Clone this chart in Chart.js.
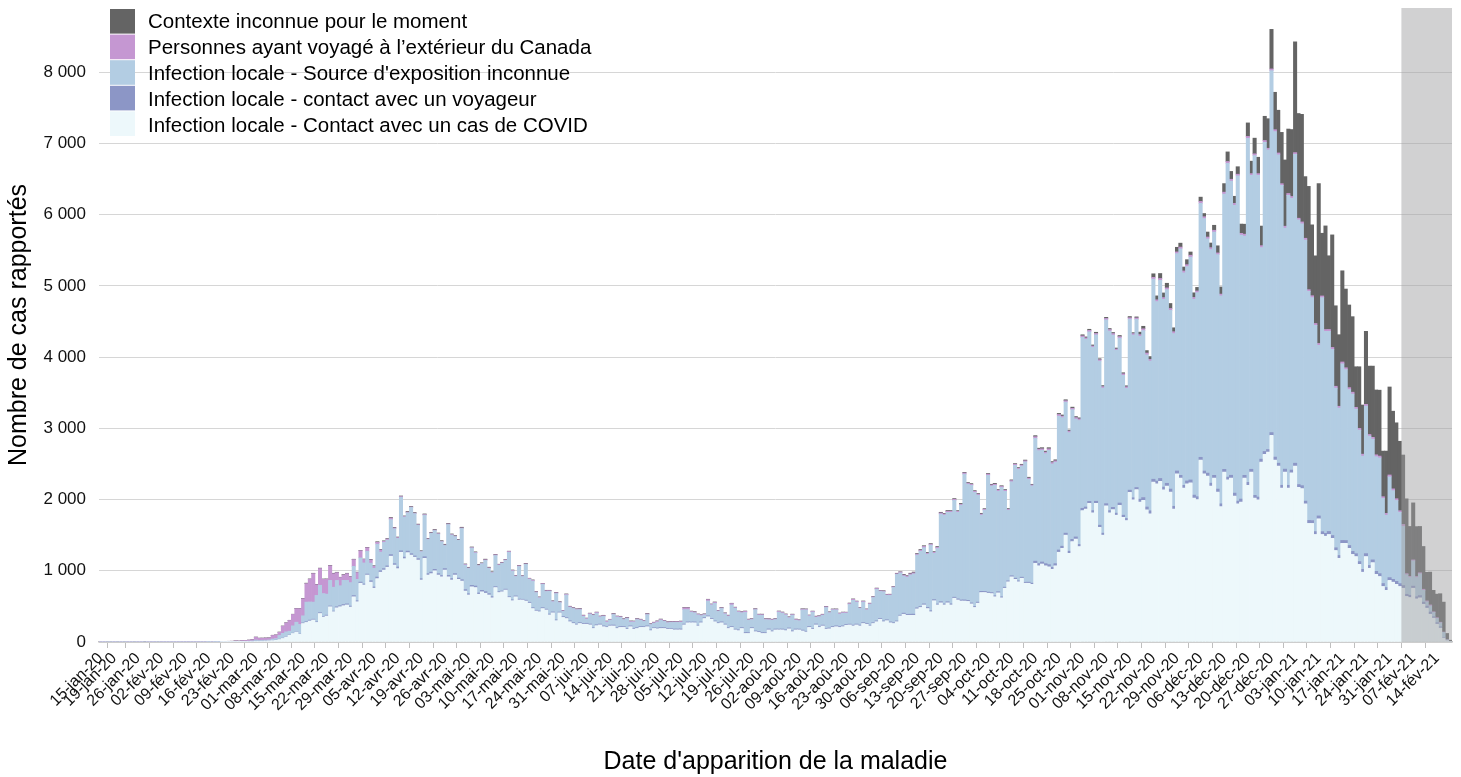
<!DOCTYPE html>
<html>
<head>
<meta charset="utf-8">
<script src="https://cdn.jsdelivr.net/npm/chart.js@4.4.1/dist/chart.umd.min.js"></script>
<style>
html,body{margin:0;padding:0;background:#fff;}
#wrap{width:1461px;height:777px;position:relative;}
</style>
</head>
<body>
<div id="wrap"><canvas id="c" width="1461" height="777"></canvas></div>
<script>
// ---------- DATA ----------
const seriesLabels = [
  "Infection locale - Contact avec un cas de COVID",
  "Infection locale - contact avec un voyageur",
  "Infection locale - Source d'exposition inconnue",
  "Personnes ayant voyagé à l’extérieur du Canada",
  "Contexte inconnue pour le moment"
];
const yTitle = "Nombre de cas rapportés";
const xTitle = "Date d'apparition de la maladie";
const monthsFr = ['jan','fév','mar','avr','mai','jui','jul','aoû','sep','oct','nov','déc'];
const firstDay = [2020, 0, 15];
const shadedFrom = '04-fév-21';
const yTicks = [0, 1000, 2000, 3000, 4000, 5000, 6000, 7000, 8000];
const yMax = 8900;

const tickLabels = ['15-jan-20','19-jan-20','26-jan-20','02-fév-20','09-fév-20','16-fév-20','23-fév-20',
'01-mar-20','08-mar-20','15-mar-20','22-mar-20','29-mar-20','05-avr-20','12-avr-20','19-avr-20','26-avr-20',
'03-mai-20','10-mai-20','17-mai-20','24-mai-20','31-mai-20','07-jui-20','14-jui-20','21-jui-20','28-jui-20',
'05-jul-20','12-jul-20','19-jul-20','26-jul-20','02-aoû-20','09-aoû-20','16-aoû-20','23-aoû-20','30-aoû-20',
'06-sep-20','13-sep-20','20-sep-20','27-sep-20','04-oct-20','11-oct-20','18-oct-20','25-oct-20',
'01-nov-20','08-nov-20','15-nov-20','22-nov-20','29-nov-20','06-déc-20','13-déc-20','20-déc-20','27-déc-20',
'03-jan-21','10-jan-21','17-jan-21','24-jan-21','31-jan-21','07-fév-21','14-fév-21'];

const contact = [
0,0,0,0,0,0,0,0,0,0,
0,0,0,0,0,0,0,0,0,0,
0,0,0,0,0,0,0,0,0,0,
0,0,0,0,0,0,1,1,2,2,
3,3,4,5,6,8,12,12,14,15,
18,20,25,35,50,70,95,120,140,110,
260,275,295,310,275,400,350,365,495,425,
480,495,510,520,490,635,565,825,800,940,
840,755,890,980,1010,1050,1205,1080,1030,1260,
1170,1255,1220,1190,1150,870,1175,940,960,1000,
940,915,1010,915,870,940,880,855,715,660,
775,765,670,705,685,660,620,765,695,705,
730,625,580,635,590,590,575,545,470,435,
425,470,450,380,410,300,410,345,330,285,
260,240,260,250,250,240,190,230,240,215,
205,225,225,190,205,205,180,215,180,190,
205,205,215,160,190,185,190,190,180,180,
170,170,170,240,270,270,270,225,270,330,
355,320,285,260,270,240,190,205,170,160,
190,120,120,190,145,135,120,120,170,145,
170,170,170,160,185,145,170,170,155,140,
205,180,240,205,225,180,185,205,215,205,
215,235,240,225,240,225,260,250,225,260,
285,320,285,300,270,260,285,365,390,375,
375,375,465,485,520,470,425,580,520,550,
520,550,520,615,590,575,575,570,535,485,
545,695,695,685,680,635,690,620,755,845,
915,880,845,895,825,825,810,1105,1070,1095,
1070,1055,1020,1070,1260,1315,1500,1245,1410,1445,
1340,1845,1865,1945,1815,1945,1610,1500,1910,1815,
1860,1780,1920,1750,1705,2100,1995,2140,1965,1990,
1855,1800,2245,2220,2255,2135,2190,2105,1865,2360,
2300,2160,2220,2235,2020,2000,2555,2360,2330,2190,
2300,2105,1900,2385,2275,2300,2050,1940,1965,2300,
2200,2385,2020,1995,2525,2635,2665,2900,2555,2470,
2160,2385,2160,2375,2470,2170,2155,1940,1665,1665,
1510,1730,1510,1485,1510,1455,1285,1175,1385,1385,
1315,1230,1200,1090,980,1200,1035,1115,950,920,
780,725,865,840,810,780,755,640,625,755,
605,620,530,475,390,335,250,195,55,20,
5];

const voyageur = [
0,0,0,0,0,0,0,0,0,0,
0,0,0,0,0,0,0,0,0,0,
0,0,0,0,0,0,0,0,0,0,
0,0,0,0,0,0,0,0,0,0,
1,0,1,1,1,2,2,2,3,2,
2,2,3,4,4,5,4,4,5,4,
8,10,12,10,9,11,10,12,10,9,
14,15,16,15,14,17,15,16,15,14,
20,18,22,20,21,19,22,20,24,20,
22,21,20,18,20,19,22,20,21,20,
20,19,21,20,22,20,18,20,21,19,
20,21,19,20,22,20,18,12,13,11,
12,11,13,12,12,10,12,13,12,11,
12,12,11,13,12,12,10,12,12,13,
12,11,12,12,13,12,11,12,12,12,
10,12,13,12,12,11,12,12,13,12,
12,11,12,12,10,12,13,12,12,11,
12,12,13,12,12,11,12,12,12,13,
12,12,11,12,13,12,12,12,11,12,
12,13,12,12,11,12,12,12,13,12,
12,11,12,12,12,13,12,11,12,12,
12,12,13,12,12,11,12,12,12,13,
12,12,11,12,12,13,12,12,12,11,
12,12,13,12,12,12,11,12,15,14,
15,16,15,14,15,16,15,15,14,16,
15,15,16,14,15,15,16,15,14,15,
15,16,15,15,14,15,16,15,15,14,
15,16,15,15,14,15,16,30,32,28,
30,31,29,30,32,30,28,30,31,30,
30,32,30,29,30,31,30,28,32,30,
30,29,31,30,30,32,30,29,40,38,
40,42,40,39,41,40,38,42,40,41,
40,39,41,40,42,40,38,40,41,40,
40,42,40,39,40,41,40,38,42,40,
41,40,39,40,42,40,38,40,41,40,
40,42,40,39,40,41,40,38,42,40,
41,40,39,40,42,40,38,40,41,40,
40,42,40,39,40,41,40,38,42,40,
41,40,39,40,42,40,38,30,31,29,
30,32,30,29,31,20,21,19,10,5,
0];

const sourceInconnue = [
0,0,0,0,0,0,0,0,0,0,
0,0,0,0,0,0,0,0,0,0,
0,0,0,0,0,0,0,0,0,0,
0,0,1,0,1,1,1,2,2,2,
3,3,4,4,5,6,13,8,8,8,
9,20,20,53,68,68,53,103,133,133,
100,275,255,240,370,385,320,295,360,335,
370,280,340,330,330,410,300,340,295,320,
247,262,462,262,367,362,492,490,400,752,
562,539,649,594,469,379,584,479,544,544,
554,474,324,714,609,519,529,719,344,354,
524,464,384,374,439,354,334,438,368,388,
403,623,403,273,458,318,503,323,373,248,
183,328,248,318,143,368,133,73,318,188,
198,203,183,98,58,138,173,163,98,133,
63,68,148,148,128,98,138,53,88,113,
88,73,158,73,63,83,103,88,78,83,
93,93,93,203,173,138,128,143,88,38,
208,188,248,158,188,143,158,303,293,248,
208,283,173,113,298,228,243,183,128,148,
133,238,223,208,143,218,123,118,283,298,
148,228,93,138,138,293,213,233,223,173,
178,158,278,348,308,233,288,188,293,353,
443,378,408,343,373,493,653,593,520,520,
550,565,740,775,790,745,920,650,780,1230,
1245,1255,1285,1360,1215,1330,1765,1630,1650,1600,
1500,1070,1140,1640,1495,1550,1410,1535,1345,990,
1320,1585,1565,1560,1690,1445,1365,1725,1585,1570,
1545,1605,1450,1425,1880,1805,1840,1665,1820,1655,
1740,2400,2355,2380,2290,2335,2305,2035,2580,2520,
2420,2285,2315,1965,1825,2400,2285,2360,2285,2345,
2135,2100,2810,2520,2780,2635,2720,2510,2425,3050,
3180,2985,3010,3130,2750,2865,3565,3545,3290,3280,
3415,3290,2920,3865,4405,4130,4040,4565,3705,3360,
4830,4125,4770,4515,2970,4340,4205,5080,4570,4330,
4210,3385,4070,3815,4335,3715,3675,3665,3215,3130,
2895,2395,3285,2835,2810,2615,2240,2070,2480,2400,
2190,2210,2030,1845,1590,2070,1815,1695,1610,1625,
1195,1015,1415,1245,1135,1000,830,275,250,355,
270,305,165,60,85,60,60,55,70,5,
0];

const voyage = [
2,1,0,0,1,0,1,0,2,1,
0,1,2,0,1,2,1,0,2,1,
1,2,1,3,2,4,3,2,3,2,
4,3,4,3,5,4,5,5,6,7,
9,8,11,12,15,17,40,30,28,30,
28,50,50,45,100,125,150,160,190,220,
240,260,320,400,150,235,200,210,205,190,
110,115,75,95,80,95,95,100,50,50,
45,30,25,30,15,15,20,12,12,10,
8,9,7,8,8,6,8,9,7,8,
8,7,8,9,8,7,6,8,9,8,
7,8,8,6,9,8,7,10,11,9,
10,12,9,10,11,10,8,10,12,10,
9,10,11,10,10,12,9,10,10,11,
10,9,10,12,10,10,9,11,10,10,
12,10,9,10,11,10,10,12,9,10,
10,11,10,9,10,12,10,10,11,10,
9,10,12,25,25,10,11,10,9,10,
20,10,12,10,9,10,11,20,10,10,
12,15,10,9,10,11,10,10,12,10,
10,12,10,9,10,10,11,10,12,10,
9,10,11,10,10,12,9,10,10,11,
10,10,12,15,10,9,10,11,10,10,
12,10,9,10,11,10,10,12,15,14,
16,15,14,15,17,15,13,15,16,15,
14,15,16,15,15,13,17,15,14,16,
15,15,14,16,15,15,17,14,15,15,
16,15,14,15,15,16,14,22,20,19,
20,21,20,18,22,20,19,21,20,20,
22,20,19,21,20,20,18,22,20,21,
20,19,21,20,22,20,19,20,25,24,
26,25,24,25,27,25,23,25,26,25,
24,25,26,25,25,23,27,25,24,26,
25,25,24,26,25,25,27,24,25,25,
26,25,24,25,27,25,23,25,26,25,
24,25,26,25,25,23,27,25,24,26,
25,25,24,26,25,25,27,24,25,25,
26,25,24,25,27,25,23,25,26,25,
24,25,26,25,25,23,27,15,16,14,
15,15,16,14,15,10,11,9,5,0,
0];

const contexteInconnu = [
0,0,0,0,0,0,0,0,0,0,
0,0,0,3,0,0,0,0,0,0,
0,0,0,0,0,0,0,0,0,0,
0,0,0,0,0,0,0,0,0,0,
1,1,1,1,1,2,3,3,3,3,
3,3,3,3,3,3,3,3,3,3,
5,6,4,5,5,6,5,4,5,6,
5,4,6,5,5,5,6,4,5,5,
8,7,9,8,8,7,9,8,8,8,
8,9,7,8,8,8,9,7,8,8,
8,8,9,7,8,8,8,9,7,8,
8,8,9,7,8,8,8,5,5,6,
5,4,6,5,5,5,6,4,5,5,
5,4,6,5,5,5,6,4,5,5,
5,4,6,5,5,5,6,4,5,5,
5,4,6,5,5,5,6,4,5,5,
5,4,6,5,5,5,6,4,5,5,
5,4,6,5,5,5,6,4,5,5,
5,4,6,5,5,5,6,4,5,5,
5,4,6,5,5,5,6,4,5,5,
5,4,6,5,5,5,6,4,5,5,
5,4,6,5,5,5,6,4,5,5,
5,4,6,5,5,5,6,4,5,5,
5,4,6,5,5,5,6,4,10,9,
10,11,9,10,10,12,9,10,11,10,
10,11,9,10,10,12,9,10,11,10,
10,11,9,10,10,12,9,10,11,10,
10,9,11,10,10,12,9,15,14,16,
15,16,14,15,15,17,14,15,16,15,
15,16,14,15,15,17,14,15,16,15,
15,14,16,15,15,17,14,15,35,35,
35,40,50,55,70,65,65,70,55,65,
55,55,70,45,65,50,60,45,70,65,
70,100,100,120,135,110,100,105,130,140,
190,175,220,230,275,340,415,555,525,600,
720,930,905,940,1555,1470,1510,865,1450,995,
950,2245,880,1455,1035,1580,1130,1005,1280,1105,
1160,1060,570,865,690,1025,960,1000,910,925,
640,875,1235,1090,1065,975,975,1050,700,800,
700,650,600,400,460,300,330,400,420,90,
20];

// ---------- BUILD ----------
const nDays = contact.length;
[voyageur, sourceInconnue, voyage, contexteInconnu].forEach((a, k) => {
  if (a.length !== nDays) throw new Error('length mismatch in series ' + k + ': ' + a.length + ' vs ' + nDays);
});
const categories = [];
{
  const d = new Date(Date.UTC(firstDay[0], firstDay[1], firstDay[2]));
  for (let k = 0; k < nDays; k++) {
    categories.push(String(d.getUTCDate()).padStart(2, '0') + '-' + monthsFr[d.getUTCMonth()] + '-' + String(d.getUTCFullYear()).slice(2));
    d.setUTCDate(d.getUTCDate() + 1);
  }
}
const tickSet = new Set(tickLabels);
const FONT = '"Liberation Sans", Arial, Helvetica, sans-serif';
const colors = ['#edf8fb', '#8c96c6', '#b3cde3', '#c597d2', '#646464'];
const seriesData = [contact, voyageur, sourceInconnue, voyage, contexteInconnu];
const legendOrder = [4, 3, 2, 1, 0];

const fmt = v => String(v).replace(/\B(?=(\d{3})+(?!\d))/g, '\u00a0');

const shadePlugin = {
  id: 'shade',
  afterDatasetsDraw(chart) {
    const xs = chart.scales.x, ctx = chart.ctx, a = chart.chartArea;
    const idx = categories.indexOf(shadedFrom);
    if (idx < 0) return;
    const half = (xs.getPixelForValue(1) - xs.getPixelForValue(0)) / 2;
    const left = xs.getPixelForValue(idx) - half;
    ctx.save();
    ctx.fillStyle = 'rgba(158,158,160,0.48)';
    ctx.fillRect(left, a.top, a.right - left, a.bottom - a.top);
    ctx.restore();
  }
};

const legendPlugin = {
  id: 'insideLegend',
  afterDraw(chart) {
    const ctx = chart.ctx, a = chart.chartArea;
    const x0 = a.left + 11, y0 = a.top + 1, box = 25, rowH = 25.6, textStep = 26.2;
    ctx.save();
    ctx.font = '20.5px ' + FONT;
    ctx.textBaseline = 'middle';
    ctx.textAlign = 'left';
    legendOrder.forEach((k, r) => {
      const ds = chart.data.datasets[k];
      ctx.fillStyle = ds.backgroundColor;
      ctx.fillRect(x0, y0 + r * rowH, box, rowH - 1);
      ctx.fillStyle = '#000';
      ctx.fillText(ds.label, x0 + 38, a.top + 14 + r * textStep);
    });
    ctx.restore();
  }
};

new Chart(document.getElementById('c'), {
  type: 'bar',
  data: {
    labels: categories,
    datasets: seriesData.map((d, k) => ({
      label: seriesLabels[k],
      data: d,
      backgroundColor: colors[k],
      borderWidth: 0,
      barPercentage: 1,
      categoryPercentage: 1
    }))
  },
  options: {
    responsive: false,
    animation: false,
    devicePixelRatio: 1,
    events: [],
    layout: { padding: { top: 8, right: 9, left: 0, bottom: 0 } },
    plugins: { legend: { display: false }, tooltip: { enabled: false } },
    scales: {
      x: {
        stacked: true,
        offset: true,
        grid: {
          display: true, drawOnChartArea: false, drawTicks: true, tickLength: 6, offset: true,
          color: c => (c.tick && tickSet.has(categories[c.tick.value])) ? '#bfbfbf' : 'rgba(0,0,0,0)',
          lineWidth: 1
        },
        border: { display: true, color: '#c4c4c4', width: 1.5 },
        ticks: {
          autoSkip: false, maxRotation: 45, minRotation: 45, padding: 1,
          color: '#111', font: { size: 16, family: FONT },
          callback: function (v) { const l = categories[v]; return tickSet.has(l) ? l : null; }
        },
        title: { display: true, text: xTitle, color: '#000', font: { size: 25, family: FONT }, padding: { top: 0, bottom: 0 } },
        afterFit(s) { s.height = 135; s.paddingLeft = 0; s.paddingRight = 0; }
      },
      y: {
        stacked: true,
        min: 0,
        max: yMax,
        ticks: { autoSkip: false, padding: 13, color: '#111', font: { size: 17, family: FONT }, callback: v => fmt(v) },
        afterBuildTicks(s) { s.ticks = yTicks.map(v => ({ value: v })); },
        grid: { color: '#d6d6d6', lineWidth: 1, drawTicks: false },
        border: { display: false },
        title: { display: true, text: yTitle, color: '#000', font: { size: 25, family: FONT }, padding: { top: 4, bottom: 0 } },
        afterFit(s) { s.width = 99; s.paddingTop = 0; s.paddingBottom = 0; }
      }
    }
  },
  plugins: [shadePlugin, legendPlugin]
});
</script>
</body>
</html>
